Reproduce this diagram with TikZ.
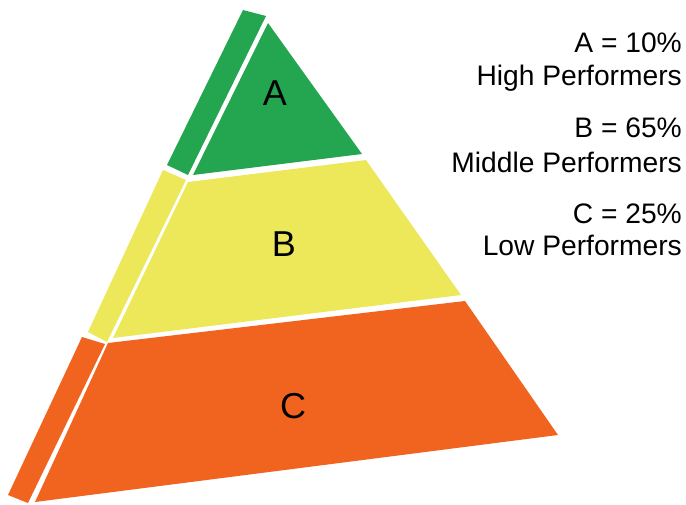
\documentclass[tikz,border=0pt]{standalone}
\usepackage{fontspec}
\setmainfont{Liberation Sans}
\definecolor{pgreen}{RGB}{36,166,80}
\definecolor{pyellow}{RGB}{236,232,90}
\definecolor{porange}{RGB}{240,100,32}
\begin{document}
\begin{tikzpicture}[x=1pt,y=-1pt,
  big/.style={font=\fontsize{36}{40}\selectfont, anchor=base},
  legend/.style={font=\fontsize{28.2}{30}\selectfont, anchor=base east, inner sep=0pt}]
\useasboundingbox (0,0) rectangle (686,504);
% A tier
\fill[pgreen] (243,10) -- (266,16) -- (188,175) -- (167,165) -- cycle;
\fill[pgreen] (268,23) -- (362,154) -- (193,175) -- cycle;
% B tier
\fill[pyellow] (163,170) -- (186,180) -- (107,342) -- (88,332) -- cycle;
\fill[pyellow] (188,182) -- (366,160) -- (461,295) -- (113,338) -- cycle;
% C tier
\fill[porange] (82,337) -- (105,344) -- (28,503) -- (8,495) -- cycle;
\fill[porange] (108,343) -- (465,301) -- (558,435) -- (35,502) -- cycle;
% letters
\node[big] (la) at (275,105) {A};
\node[big] (lb) at (284,256) {B};
\node[big] (lc) at (293,418) {C};
% legend
\node[legend] (t1) at (682,52) {A = 10\%};
\node[legend] (t2) at (682,85) {High Performers};
\node[legend] (t3) at (682,137) {B = 65\%};
\node[legend] (t4) at (682,172) {Middle Performers};
\node[legend] (t5) at (682,223) {C = 25\%};
\node[legend] (t6) at (682,255) {Low Performers};
\end{tikzpicture}
\end{document}
